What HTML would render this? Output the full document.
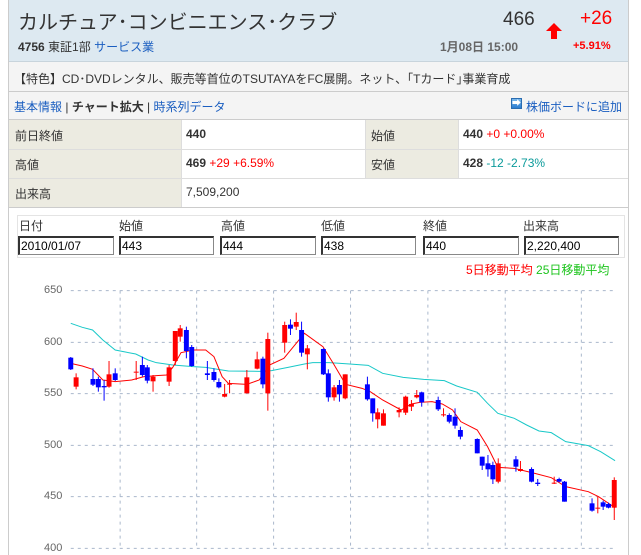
<!DOCTYPE html>
<html><head><meta charset="utf-8"><style>
*{margin:0;padding:0;box-sizing:border-box}
body{width:641px;height:555px;background:#fff;position:relative;overflow:hidden;font-family:"Liberation Sans","Noto Sans CJK JP",sans-serif;font-size:12px;color:#333}
.a{position:absolute;white-space:nowrap}
.frame{position:absolute;left:8px;top:0;width:621px;height:555px;border-left:1px solid #ccc;border-right:1px solid #ccc}
.blue{color:#1a5ec0}.red{color:#f00}.teal{color:#0a9a9a}
.lab{background:#ecebe1}
</style></head><body>
<div class="frame"></div>
<div class="a" style="left:9px;top:0;width:619px;height:62px;background:#dde9f1;border-bottom:1px solid #c8d4dc"></div>
<div class="a" style="left:18px;top:6px;font-size:20px;color:#333">カルチュア･コンビニエンス･クラブ</div>
<div class="a" style="left:18px;top:38px;font-size:12px;font-weight:bold;color:#333">4756 <span style="font-weight:normal">東証1部</span> <span class="blue" style="font-weight:normal">サービス業</span></div>
<div class="a" style="left:503px;top:9px;font-size:19px;color:#333">466</div>
<div class="a" style="left:440px;top:38px;font-size:12px;font-weight:bold;color:#666">1月08日 15:00</div>
<svg class="a" style="left:545px;top:22px" width="18" height="18" viewBox="0 0 18 18"><path d="M9 1 L17 9 L12 9 L12 17 L6 17 L6 9 L1 9 Z" fill="#f00"/></svg>
<div class="a red" style="left:580px;top:8px;font-size:19px">+26</div>
<div class="a red" style="left:573px;top:40px;font-size:11px;font-weight:bold">+5.91%</div>
<div class="a" style="left:9px;top:62px;width:619px;height:30px;background:#f4f4f4;border-bottom:1px solid #ccc"></div>
<div class="a" style="left:14px;top:70px;font-size:12px">【特色】CD･DVDレンタル、販売等首位のTSUTAYAをFC展開。ネット、｢Tカード｣事業育成</div>
<div class="a" style="left:9px;top:92px;width:619px;height:28px;background:#f4f4f4;border-bottom:1px solid #ccc"></div>
<div class="a" style="left:14px;top:98px;font-size:12px"><span class="blue">基本情報</span> | <b>チャート拡大</b> | <span class="blue">時系列データ</span></div>
<div class="a" style="left:511px;top:98px;width:11px;height:11px;background:linear-gradient(#7ab8ec,#2a7cd0);border:1px solid #2a6cb0;color:#fff;font-size:9px;line-height:9px;text-align:center">➡</div>
<div class="a blue" style="left:526px;top:98px;font-size:12px">株価ボードに追加</div>
<div class="a lab" style="left:9px;top:120px;width:172px;height:87px"></div>
<div class="a lab" style="left:365px;top:120px;width:93px;height:58px"></div>
<div class="a" style="left:9px;top:149px;width:619px;height:1px;background:#ddd"></div>
<div class="a" style="left:9px;top:178px;width:619px;height:1px;background:#ddd"></div>
<div class="a" style="left:9px;top:207px;width:619px;height:1px;background:#ccc"></div>
<div class="a" style="left:181px;top:120px;width:1px;height:87px;background:#ddd"></div>
<div class="a" style="left:365px;top:120px;width:1px;height:58px;background:#ddd"></div>
<div class="a" style="left:458px;top:120px;width:1px;height:58px;background:#ddd"></div>
<div class="a" style="left:15px;top:127px">前日終値</div>
<div class="a" style="left:186px;top:127px;font-weight:bold">440</div>
<div class="a" style="left:371px;top:127px">始値</div>
<div class="a" style="left:463px;top:127px"><b>440</b> <span class="red">+0 +0.00%</span></div>
<div class="a" style="left:15px;top:156px">高値</div>
<div class="a" style="left:186px;top:156px"><b>469</b> <span class="red">+29 +6.59%</span></div>
<div class="a" style="left:371px;top:156px">安値</div>
<div class="a" style="left:463px;top:156px"><b>428</b> <span class="teal">-12 -2.73%</span></div>
<div class="a" style="left:15px;top:185px">出来高</div>
<div class="a" style="left:186px;top:185px">7,509,200</div>
<div class="a" style="left:17px;top:215px;width:608px;height:43px;border:1px solid #e4e4e4"></div>
<div class="a" style="left:19px;top:217px">日付</div><div class="a" style="left:119px;top:217px">始値</div><div class="a" style="left:221px;top:217px">高値</div><div class="a" style="left:321px;top:217px">低値</div><div class="a" style="left:423px;top:217px">終値</div><div class="a" style="left:523px;top:217px">出来高</div>
<div class="a" style="left:18px;top:236px;width:96px;height:19px;border:1px solid #888;border-top:2px solid #333;border-left:2px solid #333;padding-left:1px;line-height:16px;color:#000">2010/01/07</div>
<div class="a" style="left:119px;top:236px;width:95px;height:19px;border:1px solid #888;border-top:2px solid #333;border-left:2px solid #333;padding-left:1px;line-height:16px;color:#000">443</div>
<div class="a" style="left:220px;top:236px;width:96px;height:19px;border:1px solid #888;border-top:2px solid #333;border-left:2px solid #333;padding-left:1px;line-height:16px;color:#000">444</div>
<div class="a" style="left:321px;top:236px;width:95px;height:19px;border:1px solid #888;border-top:2px solid #333;border-left:2px solid #333;padding-left:1px;line-height:16px;color:#000">438</div>
<div class="a" style="left:423px;top:236px;width:96px;height:19px;border:1px solid #888;border-top:2px solid #333;border-left:2px solid #333;padding-left:1px;line-height:16px;color:#000">440</div>
<div class="a" style="left:524px;top:236px;width:95px;height:19px;border:1px solid #888;border-top:2px solid #333;border-left:2px solid #333;padding-left:1px;line-height:16px;color:#000">2,220,400</div>
<div class="a" style="left:466px;top:261px;font-size:12px"><span class="red">5日移動平均</span> <span style="color:#1cc41c">25日移動平均</span></div>
<div class="a" style="left:44px;top:284px;font-size:11px;color:#666">650</div>
<div class="a" style="left:44px;top:336px;font-size:11px;color:#666">600</div>
<div class="a" style="left:44px;top:387px;font-size:11px;color:#666">550</div>
<div class="a" style="left:44px;top:439px;font-size:11px;color:#666">500</div>
<div class="a" style="left:44px;top:490px;font-size:11px;color:#666">450</div>
<div class="a" style="left:44px;top:542px;font-size:11px;color:#666">400</div>
<svg class="a" style="left:0;top:280px" width="641" height="275" viewBox="0 0 1558 825" preserveAspectRatio="none">
<g stroke="#aab8cc" stroke-dasharray="3,4" fill="none">
<path vector-effect="non-scaling-stroke" d="M172 32H1495M172 187H1495M172 341H1495M172 496H1495M172 650H1495M172 805H1495"/>
<path vector-effect="non-scaling-stroke" d="M292 32V805M478 32V805M665 32V805M852 32V805M1040 32V805M1228 32V805M1413 32V805"/>
</g>
<polyline vector-effect="non-scaling-stroke" fill="none" stroke="#18c8c8" stroke-width="1" points="172,130 200,142 225,150 250,180 280,210 300,215 330,222 360,240 380,248 420,255 450,258 470,260 500,262 530,268 555,273 630,274 660,272 700,262 740,252 760,248 800,248 850,252 895,256 930,280 980,292 1030,298 1080,302 1110,318 1160,337 1185,370 1210,400 1250,415 1280,435 1310,453 1340,458 1375,485 1430,497 1460,515 1495,542"/>
<polyline vector-effect="non-scaling-stroke" fill="none" stroke="#f00" stroke-width="1" points="172,250 200,258 225,268 250,300 280,305 320,300 350,290 380,287 405,285 420,262 440,218 470,210 500,210 520,230 540,290 555,310 600,313 630,300 655,255 690,235 710,205 740,160 785,200 810,250 840,313 880,325 900,335 930,360 975,390 1000,372 1020,367 1050,365 1075,372 1100,390 1120,425 1160,450 1185,500 1210,562 1250,565 1300,580 1340,593 1375,620 1430,635 1455,650 1495,683"/>
<g id="c"></g>
</svg>
<script>
var d=[[172,'b',233,268,231,270],[185,'r',292,320,280,328],[226,'b',297,314,265,318],[239,'b',297,322,290,335],[253,'b',318,322,300,362],[265,'r',283,320,243,323],[280,'b',280,300,265,303],[331,'r',275,278,243,300],[346,'b',255,285,230,290],[358,'b',262,302,255,310],[372,'r',290,304,285,335],[411,'r',262,305,255,318],[426,'r',153,243,153,255],[438,'r',145,170,135,185],[453,'b',150,213,140,235],[466,'b',201,258,195,260],[504,'b',280,285,243,300],[520,'b',276,300,265,305],[532,'b',306,322,295,325],[546,'r',342,350,312,352],[558,'r',311,314,300,340],[600,'r',292,340,270,340],[625,'r',238,266,215,268],[639,'b',236,313,230,325],[651,'r',177,340,158,392],[692,'r',135,188,125,218],[706,'b',134,146,118,165],[720,'r',126,140,98,150],[733,'b',150,218,125,230],[747,'r',205,223,195,268],[786,'b',207,283,205,285],[798,'b',280,352,268,365],[812,'r',322,352,315,362],[825,'b',315,343,300,365],[839,'r',283,355,283,358],[893,'b',313,358,290,362],[906,'b',355,400,355,425],[918,'r',397,418,385,445],[932,'r',400,437,388,437],[970,'r',390,397,382,412],[986,'r',350,398,347,405],[1000,'r',372,380,360,393],[1013,'r',345,352,330,355],[1025,'b',337,367,335,380],[1065,'b',360,388,350,393],[1078,'r',403,404,385,410],[1092,'b',405,425,400,430],[1106,'b',410,437,385,446],[1119,'b',450,470,440,478],[1160,'b',477,520,475,520],[1172,'b',530,557,530,570],[1186,'b',550,568,525,590],[1198,'b',555,598,545,612],[1211,'r',550,605,535,610],[1254,'b',538,560,528,575],[1265,'r',567,573,543,575],[1292,'b',567,605,562,607],[1307,'b',608,612,597,618],[1347,'r',608,609,590,612],[1359,'b',597,605,593,607],[1372,'b',605,665,603,665],[1439,'b',670,692,655,695],[1453,'r',683,685,650,700],[1466,'b',667,680,662,690],[1479,'b',672,683,668,685],[1493,'r',600,683,592,720]];
var s='';d.forEach(function(e){var c=e[1]=='r'?'#f00':'#00f';s+='<rect x="'+(e[0]-1.2)+'" y="'+e[4]+'" width="2.4" height="'+(e[5]-e[4])+'" fill="'+c+'"/><rect x="'+(e[0]-6)+'" y="'+e[2]+'" width="12" height="'+Math.max(3,e[3]-e[2])+'" fill="'+c+'"/>';});
document.getElementById('c').innerHTML=s;
</script>
</body></html>
